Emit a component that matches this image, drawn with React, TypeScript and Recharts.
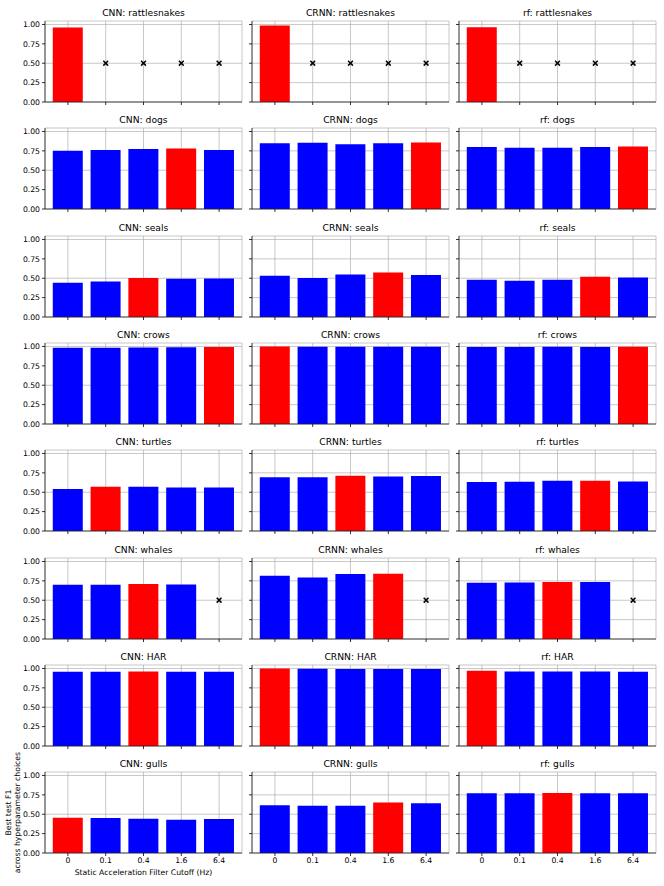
import React from 'react';
import {
  ComposedChart,
  Bar,
  Cell,
  Scatter,
  XAxis,
  YAxis,
  CartesianGrid,
} from 'recharts';

// ---------- data ----------
const FILTERS = ['0', '0.1', '0.4', '1.6', '6.4'];
const MODELS = ['CNN', 'CRNN', 'rf'];
const DATASETS = ['rattlesnakes', 'dogs', 'seals', 'crows', 'turtles', 'whales', 'HAR', 'gulls'];

// rows = datasets, columns = filter cutoffs (null = no result, shown as an x at MISSING_Y)
const CNN_F1: (number | null)[][] = [
  [0.96, null, null, null, null],
  [0.752, 0.761, 0.774, 0.779, 0.761],
  [0.442, 0.459, 0.502, 0.494, 0.498],
  [0.983, 0.983, 0.987, 0.99, 0.992],
  [0.541, 0.571, 0.57, 0.562, 0.562],
  [0.7, 0.7, 0.708, 0.704, null],
  [0.957, 0.957, 0.962, 0.957, 0.957],
  [0.455, 0.451, 0.443, 0.43, 0.438],
];
const CNN_BEST = [0, 3, 2, 4, 1, 2, 2, 0];

const CRNN_F1: (number | null)[][] = [
  [0.987, null, null, null, null],
  [0.848, 0.855, 0.835, 0.848, 0.857],
  [0.532, 0.502, 0.549, 0.575, 0.541],
  [0.999, 0.996, 0.996, 0.996, 0.996],
  [0.695, 0.695, 0.712, 0.704, 0.708],
  [0.815, 0.794, 0.837, 0.841, null],
  [1.0, 0.996, 0.992, 0.992, 0.992],
  [0.617, 0.609, 0.609, 0.651, 0.643],
];
const CRNN_BEST = [0, 4, 3, 0, 2, 3, 0, 3];

const RF_F1: (number | null)[][] = [
  [0.965, null, null, null, null],
  [0.8, 0.79, 0.79, 0.8, 0.805],
  [0.481, 0.468, 0.481, 0.519, 0.511],
  [0.995, 0.995, 0.996, 0.995, 0.997],
  [0.631, 0.635, 0.648, 0.649, 0.64],
  [0.725, 0.73, 0.735, 0.734, null],
  [0.97, 0.961, 0.961, 0.961, 0.957],
  [0.77, 0.77, 0.774, 0.77, 0.77],
];
const RF_BEST = [0, 4, 3, 4, 3, 2, 0, 2];

const MISSING_Y = 0.5;
const Y_TICKS = [0, 0.25, 0.5, 0.75, 1.0];
const Y_MAX = 1.045;

const MODEL_VALUES = [CNN_F1, CRNN_F1, RF_F1];
const MODEL_BEST = [CNN_BEST, CRNN_BEST, RF_BEST];

// ---------- layout ----------
const FONT = "'DejaVu Sans', sans-serif";
const PLOT_W = 197;
const PLOT_H = 81;
const COL_X = [45, 252, 459];
const ROW_TOP0 = 21;
const ROW_STEP = 107.3;
const M_TOP = 20;
const M_LEFT = 5;
const Y_AXIS_W = 40;
const X_AXIS_H = 20;
const M_BOTTOM = 5;
const M_RIGHT = 5;

const BLUE = '#0000ff';
const RED = '#ff0000';

const XMark = (props: any) => {
  const { cx, cy, payload } = props;
  if (!payload || payload.miss == null || cx == null || cy == null || isNaN(cx) || isNaN(cy)) return <g />;
  const s = 2.4;
  return (
    <g stroke="#000" strokeWidth={1.5}>
      <line x1={cx - s} y1={cy - s} x2={cx + s} y2={cy + s} />
      <line x1={cx - s} y1={cy + s} x2={cx + s} y2={cy - s} />
    </g>
  );
};

const tickStyle = { fontSize: 7.7, fill: '#000', fontFamily: FONT };

function Panel({ m, d }: { m: number; d: number }) {
  const vals = MODEL_VALUES[m][d];
  const best = MODEL_BEST[m][d];
  const data = FILTERS.map((f, i) => ({
    cat: f,
    v: vals[i],
    miss: vals[i] == null ? MISSING_Y : null,
  }));
  const rowTop = ROW_TOP0 + d * ROW_STEP;
  const left = COL_X[m] - Y_AXIS_W - M_LEFT;
  const top = rowTop - M_TOP;
  const width = M_LEFT + Y_AXIS_W + PLOT_W + M_RIGHT;
  const height = M_TOP + PLOT_H + X_AXIS_H + M_BOTTOM;
  const showY = m === 0;
  const showX = d === DATASETS.length - 1;
  return (
    <>
      <div
        style={{
          position: 'absolute',
          left: COL_X[m],
          top: rowTop - 13,
          width: PLOT_W,
          height: 10,
          lineHeight: '10px',
          textAlign: 'center',
          fontFamily: FONT,
          fontSize: 9.2,
          color: '#000',
          whiteSpace: 'nowrap',
        }}
      >
        {MODELS[m]}: {DATASETS[d]}
      </div>
      <div style={{ position: 'absolute', left, top, width, height }}>
        <ComposedChart
          width={width}
          height={height}
          data={data}
          margin={{ top: M_TOP, right: M_RIGHT, left: M_LEFT, bottom: M_BOTTOM }}
          barCategoryGap="10%"
        >
          <CartesianGrid stroke="#b0b0b0" strokeWidth={0.7} />
          <XAxis
            dataKey="cat"
            type="category"
            padding={{ left: 4, right: 4 }}
            height={X_AXIS_H}
            tickSize={3}
            tickMargin={2}
            tick={tickStyle}
            tickFormatter={(t: string) => (showX ? t : '')}
            axisLine={{ stroke: '#222', strokeWidth: 0.8 }}
            tickLine={{ stroke: '#000', strokeWidth: 0.8 }}
            interval={0}
          />
          <XAxis
            xAxisId="top"
            dataKey="cat"
            orientation="top"
            height={0}
            tick={false}
            tickLine={false}
            axisLine={{ stroke: '#222', strokeWidth: 0.8 }}
            padding={{ left: 4, right: 4 }}
          />
          <YAxis
            type="number"
            domain={[0, Y_MAX]}
            ticks={Y_TICKS}
            width={Y_AXIS_W}
            tickSize={3}
            tickMargin={2}
            tick={tickStyle}
            tickFormatter={(t: number) => (showY ? t.toFixed(2) : '')}
            axisLine={{ stroke: '#222', strokeWidth: 0.8 }}
            tickLine={{ stroke: '#000', strokeWidth: 0.8 }}
            allowDataOverflow
          />
          <YAxis
            yAxisId="right"
            orientation="right"
            type="number"
            domain={[0, Y_MAX]}
            width={0}
            tick={false}
            tickLine={false}
            axisLine={{ stroke: '#222', strokeWidth: 0.8 }}
          />
          <Bar dataKey="v" isAnimationActive={false}>
            {data.map((_, i) => (
              <Cell key={i} fill={i === best ? RED : BLUE} />
            ))}
          </Bar>
          <Scatter dataKey="miss" shape={XMark} isAnimationActive={false} />
        </ComposedChart>
      </div>
    </>
  );
}

export default function App() {
  const lastRowTop = ROW_TOP0 + (DATASETS.length - 1) * ROW_STEP;
  const yLabelCenter = lastRowTop + PLOT_H / 2;
  return (
    <div
      style={{
        position: 'absolute',
        left: 0,
        top: 0,
        width: 664,
        height: 886,
        background: '#fff',
        fontFamily: FONT,
      }}
    >
      {DATASETS.map((_, d) => MODELS.map((__, m) => <Panel key={`${m}-${d}`} m={m} d={d} />))}
      <svg style={{ position: 'absolute', left: 0, top: 0 }} width={30} height={886}>
        <text
          transform={`translate(10.8, ${yLabelCenter}) rotate(-90)`}
          textAnchor="middle"
          fontSize={7.7}
          fontFamily={FONT}
          fill="#000"
        >
          Best test F1
        </text>
        <text
          transform={`translate(19.8, ${yLabelCenter}) rotate(-90)`}
          textAnchor="middle"
          fontSize={7.7}
          fontFamily={FONT}
          fill="#000"
        >
          across hyperparameter choices
        </text>
      </svg>
      <div
        style={{
          position: 'absolute',
          left: COL_X[0],
          top: 868,
          width: PLOT_W,
          height: 10,
          lineHeight: '10px',
          textAlign: 'center',
          fontSize: 7.7,
          fontFamily: FONT,
          color: '#000',
          whiteSpace: 'nowrap',
        }}
      >
        Static Acceleration Filter Cutoff (Hz)
      </div>
    </div>
  );
}
